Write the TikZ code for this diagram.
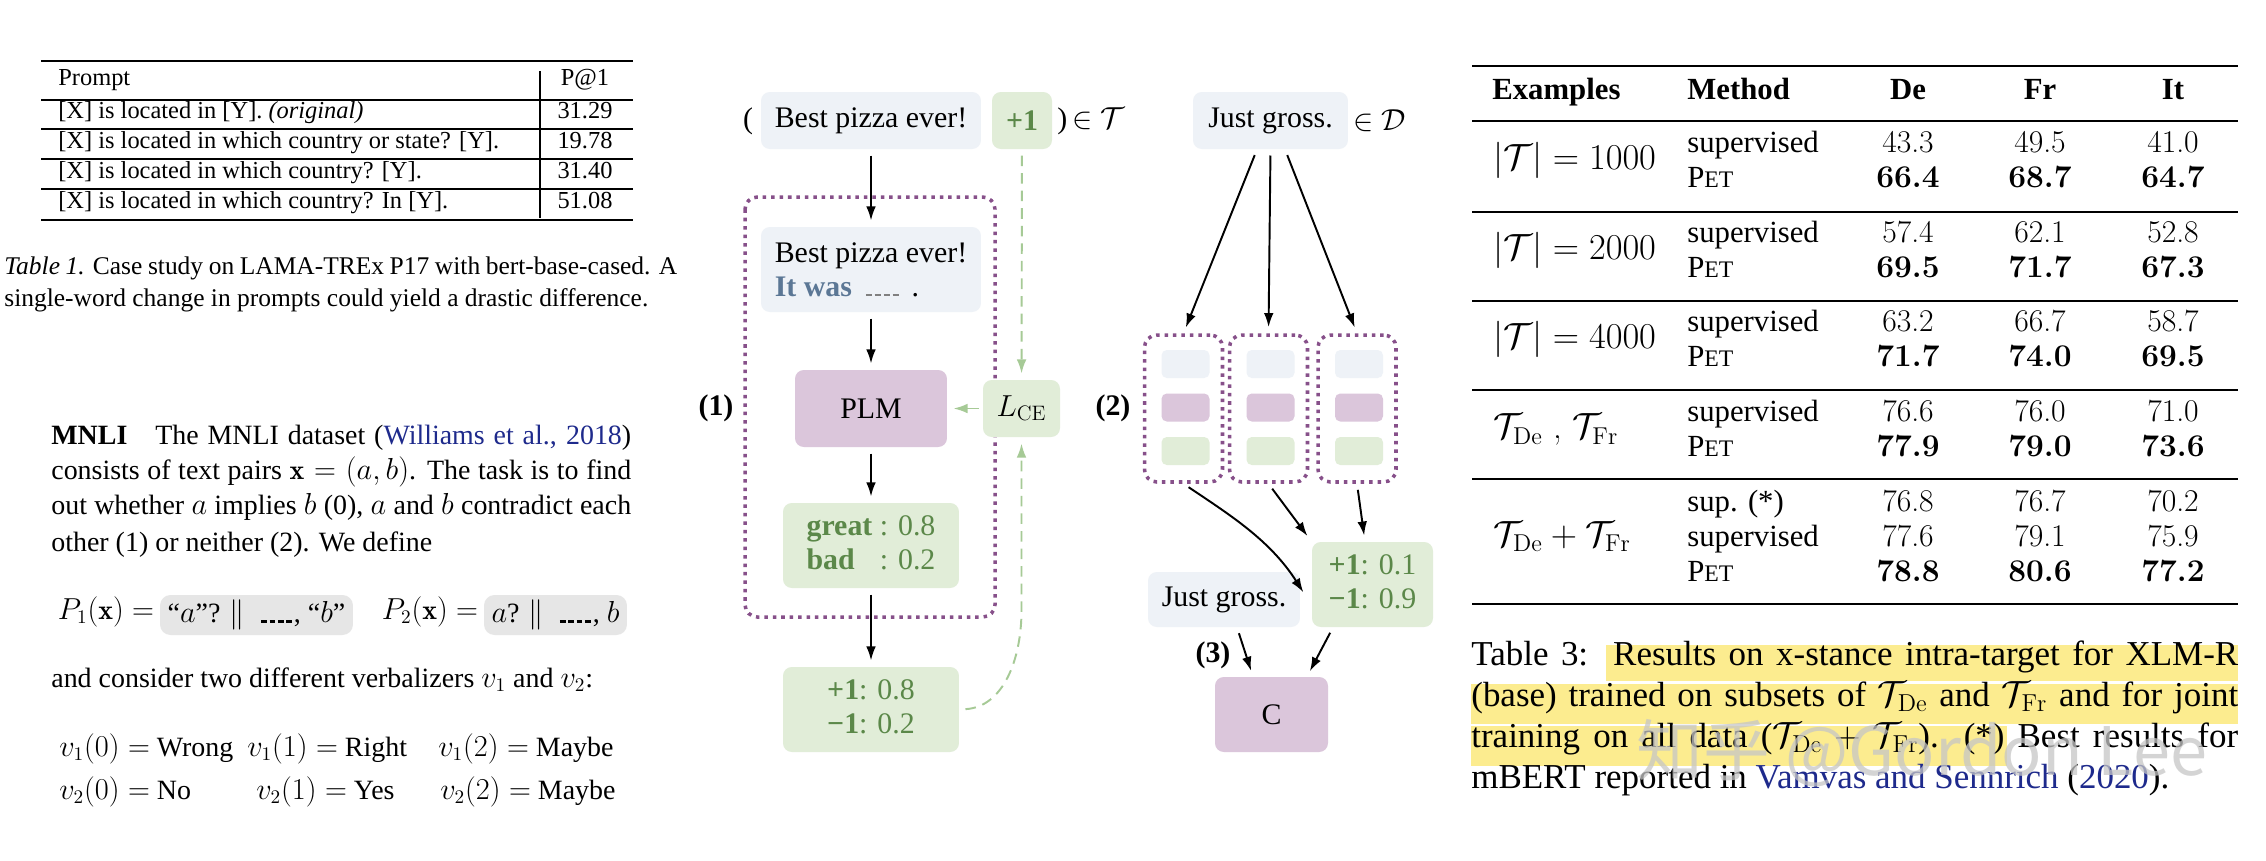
\documentclass[tikz,border=0pt]{standalone}
\usepackage{fontspec}
\usepackage{amsmath,amssymb}
\usetikzlibrary{arrows.meta,calc,positioning}
\newfontfamily\tms{Liberation Serif}
\newfontfamily\cjk{Noto Sans CJK SC}
\definecolor{boxblue}{HTML}{EEF2F7}
\definecolor{boxgreen}{HTML}{E1EDD8}
\definecolor{boxpurple}{HTML}{DBC6DB}
\definecolor{txtgreen}{HTML}{5B8849}
\definecolor{arrgreen}{HTML}{A6CA96}
\definecolor{dotpurple}{HTML}{87508A}
\definecolor{itwas}{HTML}{5B7795}
\definecolor{citeblue}{HTML}{1E2A8C}
\definecolor{hilite}{HTML}{FCEC8F}
\definecolor{cellgray}{HTML}{E6E6E6}
\newcommand{\blank}[1][1.5em]{\leavevmode\leaders\hbox to 0.3em{\hss\vrule height 0.09em depth 0em width 0.21em\hss}\hskip #1\relax}
\newcommand{\pet}{P{\fontsize{13.5}{13.5}\selectfont ET}}
\tikzset{
  txt/.style={inner sep=0pt, anchor=west, text height=0.72em, text depth=0.22em},
  tabone/.style={txt, font=\tms\fontsize{13.9}{16}\selectfont},
  capone/.style={txt, font=\tms\fontsize{14.5}{17}\selectfont},
  para/.style={txt, font=\tms\fontsize{15.9}{19}\selectfont},
  cell/.style={fill=cellgray, rounded corners=6pt, inner sep=0pt, minimum height=0.8cm, font=\tms\fontsize{15.9}{19}\selectfont},
  dia/.style={inner sep=0pt, font=\tms\fontsize{17}{19.5}\selectfont},
  lab/.style={dia, font=\tms\fontsize{17}{19.5}\selectfont\bfseries},
  cbox/.style={dia, rounded corners=5pt, align=center},
  bluebox/.style={cbox, fill=boxblue},
  greenbox/.style={cbox, fill=boxgreen, text=txtgreen},
  purplebox/.style={cbox, fill=boxpurple},
  slot/.style={rounded corners=3pt, minimum width=0.96cm, minimum height=0.56cm, inner sep=0pt},
  dotframe/.style={draw=dotpurple, line width=2pt, dash pattern=on 2pt off 2.8pt, rounded corners=7pt},
  arr/.style={->, line width=1.1pt, shorten <=3.5pt, shorten >=3.5pt},
  garr/.style={arr, draw=arrgreen},
  gdash/.style={garr, dash pattern=on 6pt off 4pt},
  hdr/.style={inner sep=0pt, text height=0.72em, text depth=0.22em, font=\tms\fontsize{17.5}{21}\selectfont\bfseries},
  meth/.style={hdr, anchor=west, font=\tms\fontsize{17.5}{21}\selectfont},
  num/.style={hdr, font=\fontsize{18}{21}\selectfont},
  bnum/.style={num, font=\fontsize{18}{21}\selectfont\bfseries},
  rlab/.style={num, anchor=west, font=\fontsize{19.8}{22}\selectfont},
  capthree/.style={txt, font=\tms\fontsize{19.9}{23}\selectfont}
}

\begin{document}
\begin{tikzpicture}[x=0.02cm, y=-0.02cm, >={Latex[length=8pt,width=5.5pt]}]
\path[use as bounding box, fill=white] (0,0) rectangle (2266,860);

% Table 1
\draw[line width=1.4pt] (41,61) -- (633,61) (41,220) -- (633,220);
\draw[line width=0.7pt] (41,100) -- (633,100) (41,129) -- (633,129)
  (41,159) -- (633,159) (41,189) -- (633,189) (540,71) -- (540,218);
\node[tabone] (pr) at (58,81) {Prompt};
\node[tabone, anchor=center] (pa) at (585,81) {P@1};
\foreach \y/\p/\v [count=\i] in {114/{[X] is located in [Y]. \textit{(original)}}/31.29,
  144/{[X] is located in which country or state? [Y].}/19.78,
  174/{[X] is located in which country? [Y].}/31.40,
  204/{[X] is located in which country? In [Y].}/51.08}
{
  \node[tabone] (pr\i) at (58,\y) {\p};
  \node[tabone, anchor=center] (pa\i) at (585,\y) {\v};
}
\node[capone] (capa) at (4,270) {\makebox[13.46cm][s]{\textit{Table 1.} Case study on LAMA-TREx P17 with bert-base-cased. A}};
\node[capone] (capb) at (4,302) {single-word change in prompts could yield a drastic difference.};

% MNLI text
\node[para] (m1) at (51,440) {\makebox[11.6cm][s]{\textbf{MNLI}\quad The MNLI dataset ({\color{citeblue}Williams et al., 2018})}};
\node[para] (m2) at (51,475) {\makebox[11.6cm][s]{consists of text pairs $\mathbf{x}=(a,b)$. The task is to find}};
\node[para] (m3) at (51,510) {\makebox[11.6cm][s]{out whether $a$ implies $b$ (0), $a$ and $b$ contradict each}};
\node[para] (m4) at (51,547) {other (1) or neither (2). We define};
\node[cell, minimum width=3.86cm] (g1) at (256.5,615) {“$a$”? $\|$ \blank, “$b$”};
\node[para, left=3pt of g1] (p1) {$P_1(\mathbf{x}) =$};
\node[cell, minimum width=2.86cm] (g2) at (555.5,615) {$a$? $\|$ \blank, $b$};
\node[para, left=3pt of g2] (p2) {$P_2(\mathbf{x}) =$};
\node[para] (m5) at (51,683) {and consider two different verbalizers $v_1$ and $v_2$:};
\node[para] (v10) at (59,752) {$v_1(0) =$ Wrong};
\node[para] (v11) at (247,752) {$v_1(1) =$ Right};
\node[para] (v12) at (438,752) {$v_1(2) =$ Maybe};
\node[para] (v20) at (59,795) {$v_2(0) =$ No};
\node[para] (v21) at (256,795) {$v_2(1) =$ Yes};
\node[para] (v22) at (440,795) {$v_2(2) =$ Maybe};

% PET training (1)
\draw[dotframe] (745,197) rectangle (995,617);
\node[dia] (lpar) at (748,121) {(};
\node[bluebox, minimum width=4.4cm, minimum height=1.14cm] (inp) at (871,120.5) {Best pizza ever!};
\node[greenbox, minimum width=1.2cm, minimum height=1.14cm, font=\tms\fontsize{17}{19.5}\selectfont\bfseries] (lbl) at (1022,120.5) {+1};
\node[dia, anchor=west] (rpar) at (1057,121) {)\,$\in\mathcal{T}$};
\node[bluebox, minimum width=4.4cm, minimum height=1.7cm, align=left] (pat) at (871,269.5)
  {Best pizza ever!\\{\color{itwas}\bfseries It was} {\color{gray}\blank}\ .};
\node[purplebox, minimum width=3.04cm, minimum height=1.54cm] (plm) at (871,408.5) {PLM};
\node[greenbox, minimum width=1.54cm, minimum height=1.14cm, text=black] (lce) at (1021.5,408.5) {$L_{\mathrm{CE}}$};
\node[greenbox, minimum width=3.52cm, minimum height=1.7cm] (vrb) at (871,545.5)
  {\begin{tabular}{@{}l@{\ }l@{}}\textbf{great} & : 0.8\\ \textbf{bad} & : 0.2\end{tabular}};
\node[greenbox, minimum width=3.52cm, minimum height=1.7cm] (prd) at (871,709.5)
  {\begin{tabular}{@{}r@{}l@{}}\textbf{+1} & : 0.8\\ \textbf{−1} & : 0.2\end{tabular}};
\node[lab] (s1) at (716,408.5) {(1)};
\node[lab] (s2) at (1113,408.5) {(2)};
\draw[arr] (inp) -- (pat);
\draw[arr] (pat) -- (plm);
\draw[arr] (plm) -- (vrb);
\draw[arr] (vrb) -- (prd);
\draw[garr, shorten <=2pt] (lce) -- (plm);
\draw[gdash] (lbl) -- (lce);
\coordinate (bend) at (lce.south |- 0,610);
\draw[gdash] (prd.east) .. controls (1003,707) and (1021.5,660) .. (bend) -- (lce.south);

% ensemble (2) and distillation (3)
\node[bluebox, minimum width=3.1cm, minimum height=1.14cm] (qry) at (1270.5,120.5) {Just gross.};
\node[dia, anchor=west] (dset) at (1353,121) {$\in\mathcal{D}$};
\foreach \x/\s [count=\i] in {1183.5/-0.27cm, 1268.5/0cm, 1357/0.29cm}
{
  \node[dotframe, minimum width=1.56cm, minimum height=2.94cm] (ens\i) at (\x,408.5) {};
  \node[slot, fill=boxblue] (sa\i) at (\x+2,364) {};
  \node[slot, fill=boxpurple] (sb\i) at (\x+2,407.5) {};
  \node[slot, fill=boxgreen] (sc\i) at (\x+2,451) {};
  \draw[arr] ([xshift=\s]qry.south) -- (ens\i.north);
}
\node[greenbox, minimum width=2.42cm, minimum height=1.7cm] (agg) at (1372.5,584.5)
  {\begin{tabular}{@{}r@{}l@{}}\textbf{+1} & : 0.1\\ \textbf{−1} & : 0.9\end{tabular}};
\node[bluebox, minimum width=3.04cm, minimum height=1.1cm] (qry2) at (1224,599.5) {Just gross.};
\node[purplebox, minimum width=2.26cm, minimum height=1.5cm] (cls) at (1271.5,714.5) {C};
\node[lab] (s3) at (1213,655) {(3)};
\draw[arr] (ens1.south) .. controls (1230,515) and (1270,540) .. ([shift={(-0.1cm,-0.26cm)}]agg.west);
\draw[arr, shorten >=4pt] (ens2.south) -- (agg.north west);
\draw[arr] (ens3.south) -- ([xshift=-0.15cm]agg.north);
\draw[arr] ([xshift=0.26cm]qry2.south) -- ([xshift=-0.37cm]cls.north);
\draw[arr] ([xshift=-0.79cm]agg.south) -- ([xshift=0.71cm]cls.north);

% Table 3
\draw[line width=1.5pt] (1472,66) -- (2238,66) (1472,604) -- (2238,604);
\foreach \y in {121,212,301,390,479}
  \draw[line width=1pt] (1472,\y) -- (2238,\y);
\node[hdr, anchor=west] (hex) at (1492,95) {Examples};
\node[hdr, anchor=west] (hme) at (1687,95) {Method};
\node[hdr] (hde) at (1908,95) {De};
\node[hdr] (hfr) at (2040,95) {Fr};
\node[hdr] (hit) at (2173,95) {It};
\foreach \y/\l/\a/\b/\c/\d/\e/\f in {
  148/{$|\mathcal{T}| = 1000$}/43.3/49.5/41.0/66.4/68.7/64.7,
  238/{$|\mathcal{T}| = 2000$}/57.4/62.1/52.8/69.5/71.7/67.3,
  327/{$|\mathcal{T}| = 4000$}/63.2/66.7/58.7/71.7/74.0/69.5,
  417/{$\mathcal{T}_{\mathrm{De}}$ , $\mathcal{T}_{\mathrm{Fr}}$}/76.6/76.0/71.0/77.9/79.0/73.6}
{
  \node[rlab] (lab\y) at (1493,\y+17.5) {\l};
  \node[meth] (sup\y) at (1687,\y) {supervised};
  \node[meth] (pet\y) at (1687,\y+35) {\pet};
  \node[num] (de\y) at (1908,\y) {\a};
  \node[num] (fr\y) at (2040,\y) {\b};
  \node[num] (it\y) at (2173,\y) {\c};
  \node[bnum] (bde\y) at (1908,\y+35) {\d};
  \node[bnum] (bfr\y) at (2040,\y+35) {\e};
  \node[bnum] (bit\y) at (2173,\y+35) {\f};
}
\node[rlab] (lab507) at (1493,542) {$\mathcal{T}_{\mathrm{De}} + \mathcal{T}_{\mathrm{Fr}}$};
\foreach \y/\m/\a/\b/\c in {507/sup. (*)/76.8/76.7/70.2, 542/supervised/77.6/79.1/75.9}
{
  \node[meth] (m\y) at (1687,\y) {\m};
  \node[num] (de\y) at (1908,\y) {\a};
  \node[num] (fr\y) at (2040,\y) {\b};
  \node[num] (it\y) at (2173,\y) {\c};
}
\node[meth] (pet577) at (1687,577) {\pet};
\node[bnum] (bde577) at (1908,577) {78.8};
\node[bnum] (bfr577) at (2040,577) {80.6};
\node[bnum] (bit577) at (2173,577) {77.2};

% caption with highlight
\fill[hilite] (1606,645) rectangle (2238,681);
\fill[hilite] (1471,684) rectangle (2238,724);
\fill[hilite] (1471,726) rectangle (2007,766);
\node[capthree] (ca) at (1471,661) {\makebox[15.34cm][s]{Table 3:\ \ Results on x-stance intra-target for XLM-R}};
\node[capthree] (cb) at (1471,702) {\makebox[15.34cm][s]{(base) trained on subsets of $\mathcal{T}_{\mathrm{De}}$ and $\mathcal{T}_{\mathrm{Fr}}$ and for joint}};
\node[capthree] (cc) at (1471,743) {\makebox[15.34cm][s]{training on all data ($\mathcal{T}_{\mathrm{De}} + \mathcal{T}_{\mathrm{Fr}}$). (*) Best results for}};
\node[capthree] (cd) at (1471,784) {mBERT reported in {\color{citeblue}Vamvas and Sennrich} ({\color{citeblue}2020}).};

% watermark
\node[inner sep=0pt, font=\cjk\fontsize{38}{38}\selectfont, text=gray!45, opacity=0.75] (wm) at (1922,753) {知乎 @Gordon Lee};
\end{tikzpicture}
\end{document}
